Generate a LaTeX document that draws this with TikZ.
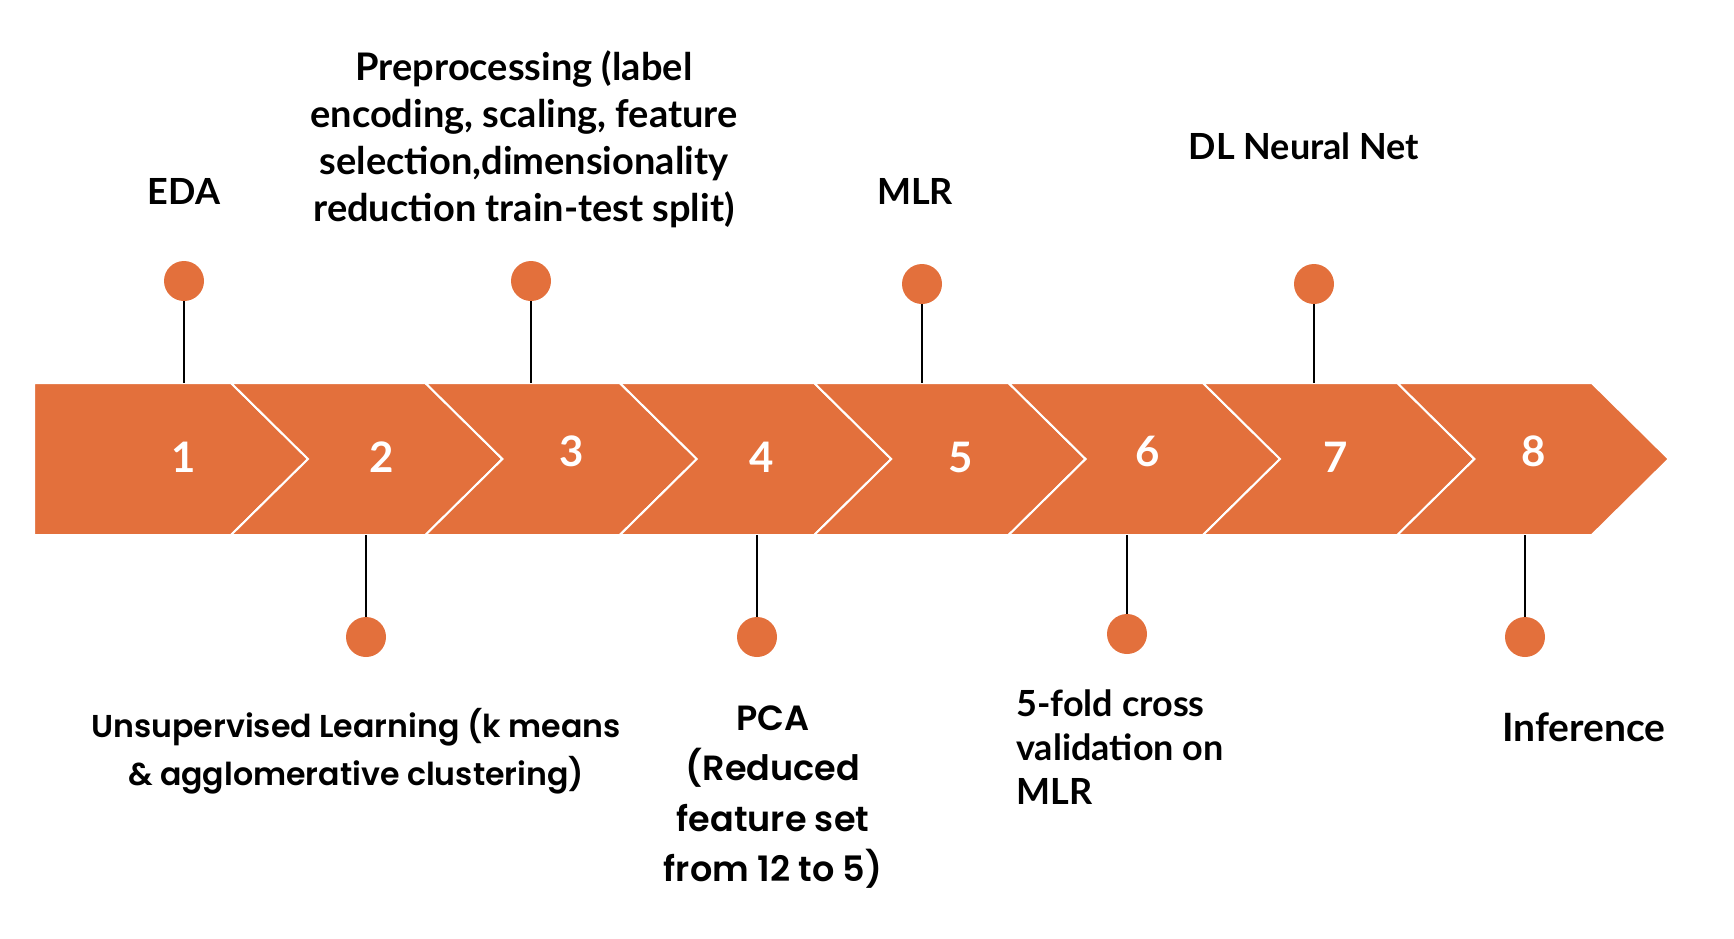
\documentclass[tikz,border=0pt]{standalone}
\usepackage{fontspec}
\setmainfont{Lato}
\newfontfamily\popfont{Poppins}[BoldFont={* SemiBold}]
\usetikzlibrary{positioning}
\definecolor{TlOrange}{HTML}{E3703C}

\begin{document}
\begin{tikzpicture}[x=0.5pt,y=-0.5pt,
    chev/.style={fill=TlOrange,draw=white,line width=1pt,line join=miter},
    num/.style={text=white,font=\fontsize{21}{24}\selectfont\bfseries},
    dot/.style={circle,fill=TlOrange,minimum size=20pt,inner sep=0pt},
    stem/.style={black,line width=0.75pt},
    lab/.style={align=center,inner sep=0pt,font=\fontsize{18}{22}\selectfont\bfseries},
    plab/.style={align=center,inner sep=0pt,font=\popfont\fontsize{15.8}{23.75}\selectfont\bfseries}
  ]
    \useasboundingbox (0,0) rectangle (1734,938);
    % band of chevrons
    \draw[chev] (34,383) -- (231,383) -- (308,459) -- (231,535) -- (34,535) -- cycle;
    \foreach \i in {1,...,7} {
      \pgfmathsetmacro\l{231+(\i-1)*194.4}
      \pgfmathsetmacro\r{\l+194.4}
      \draw[chev] (\l,383) -- (\r,383) -- (\r+77,459) -- (\r,535) -- (\l,535) -- (\l+77,459) -- cycle;
    }
    \coordinate (top) at (0,383);
    \coordinate (bot) at (0,535);
    \node[num] (n1) at (184,457) {1};
    \node[num] (n2) at (382,457) {2};
    \node[num] (n3) at (572,451) {3};
    \node[num] (n4) at (762,457) {4};
    \node[num] (n5) at (961,457) {5};
    \node[num] (n6) at (1148,451) {6};
    \node[num] (n7) at (1336,457) {7};
    \node[num] (n8) at (1534,451) {8};
    % dots above
    \node[dot] (d1) at (184,281) {};
    \node[dot] (d3) at (531,281) {};
    \node[dot] (d5) at (922,284) {};
    \node[dot] (d7) at (1314,284) {};
    \draw[stem] (d1) -- (d1 |- top); \draw[stem] (d3) -- (d3 |- top);
    \draw[stem] (d5) -- (d5 |- top); \draw[stem] (d7) -- (d7 |- top);
    % dots below
    \node[dot] (d2) at (366,637) {};
    \node[dot] (d4) at (757,637) {};
    \node[dot] (d6) at (1127,634) {};
    \node[dot] (d8) at (1525,637) {};
    \draw[stem] (d2) -- (d2 |- bot); \draw[stem] (d4) -- (d4 |- bot);
    \draw[stem] (d6) -- (d6 |- bot); \draw[stem] (d8) -- (d8 |- bot);
    % labels
    \node[lab] (eda) at (184,191) {EDA};
    \node[lab,font=\fontsize{19}{23.5}\selectfont\bfseries] (prep) at (524,139)
      {Preprocessing (label\\encoding, scaling, feature\\selection,dimensionality\\reduction train-test split)};
    \node[lab] (mlr) at (915,191) {MLR};
    \node[lab] (dl) at (1304,146) {DL Neural Net};
    \node[plab] (unsup) at (356,751) {Unsupervised Learning (k means\\\& agglomerative clustering)};
    \node[plab,font=\popfont\fontsize{17.5}{25.3}\selectfont\bfseries] (pca) at (773,797)
      {PCA\\(Reduced\\feature set\\from 12 to 5)};
    \node[lab,align=left,anchor=west] (cv) at (1016,747) {5-fold cross\\validation on\\MLR};
    \node[lab,font=\fontsize{19.5}{22}\selectfont\bfseries] (inf) at (1584,727) {Inference};
\end{tikzpicture}
\end{document}
